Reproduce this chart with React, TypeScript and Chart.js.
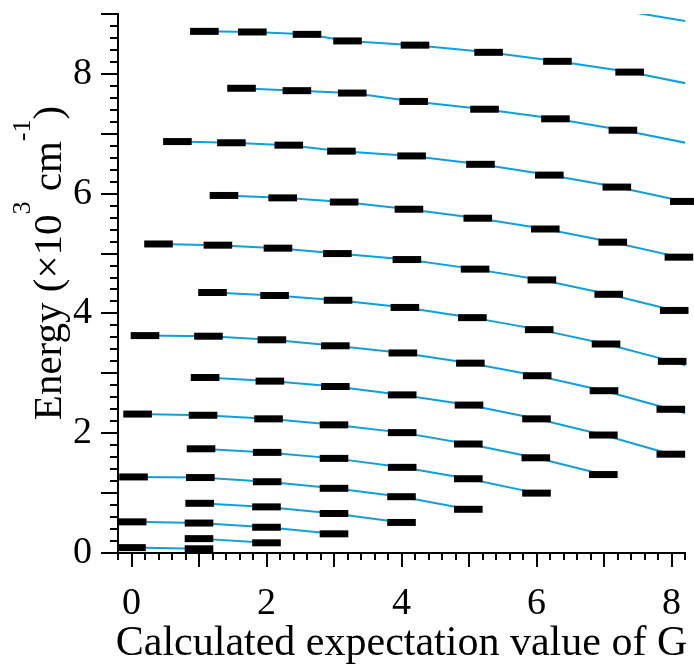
import React, { useEffect, useRef } from 'react';
import { Chart, registerables } from 'chart.js';

Chart.register(...registerables);

// ---------- data ----------
const xTickValues = [0, 2, 4, 6, 8];
const yTickValues = [0, 2, 4, 6, 8];
const xTitle = 'Calculated expectation value of G';
const yTitleMain1 = 'Energy (\u00d710';
const yTitleSup1 = '3';
const yTitleMain2 = ' cm';
const yTitleSup2 = '-1';
const yTitleMain3 = ')';

// each level series: [G, Energy (10^3 cm^-1)]
const level01: number[][] = [[0.00, 0.09], [1.00, 0.07]];
const level02: number[][] = [[1.00, 0.24], [2.00, 0.17]];
const level03: number[][] = [[0.01, 0.52], [1.00, 0.50], [2.00, 0.43], [3.00, 0.32]];
const level04: number[][] = [[1.01, 0.83], [2.00, 0.77], [3.00, 0.66], [4.00, 0.51]];
const level05: number[][] = [[0.03, 1.27], [1.02, 1.26], [2.01, 1.19], [3.00, 1.08], [4.00, 0.94], [4.99, 0.73]];
const level06: number[][] = [[1.03, 1.74], [2.01, 1.68], [3.00, 1.58], [4.01, 1.43], [4.99, 1.24], [6.00, 1.00]];
const level07: number[][] = [[0.09, 2.32], [1.06, 2.30], [2.03, 2.24], [3.00, 2.14], [4.01, 2.01], [4.99, 1.82], [5.99, 1.59], [6.99, 1.31]];
const level08: number[][] = [[1.09, 2.93], [2.05, 2.87], [3.02, 2.78], [4.01, 2.64], [5.00, 2.47], [6.00, 2.24], [6.99, 1.97], [7.99, 1.65]];
const level09: number[][] = [[0.20, 3.63], [1.14, 3.62], [2.08, 3.56], [3.02, 3.46], [4.02, 3.34], [5.02, 3.17], [6.01, 2.96], [7.00, 2.71], [7.99, 2.40], [9.00, 2.08]];
const level10: number[][] = [[1.20, 4.35], [2.12, 4.30], [3.06, 4.22], [4.05, 4.10], [5.05, 3.93], [6.04, 3.73], [7.03, 3.49], [8.01, 3.20], [9.00, 2.87]];
const level11: number[][] = [[0.40, 5.16], [1.28, 5.14], [2.17, 5.09], [3.05, 5.00], [4.08, 4.90], [5.09, 4.74], [6.08, 4.56], [7.07, 4.32], [8.04, 4.05]];
const level12: number[][] = [[1.37, 5.97], [2.24, 5.93], [3.15, 5.86], [4.11, 5.74], [5.13, 5.59], [6.13, 5.41], [7.13, 5.19], [8.11, 4.94]];
const level13: number[][] = [[0.68, 6.87], [1.48, 6.85], [2.33, 6.81], [3.11, 6.71], [4.15, 6.63], [5.17, 6.49], [6.19, 6.31], [7.19, 6.11], [8.19, 5.87]];
const level14: number[][] = [[1.63, 7.76], [2.45, 7.72], [3.27, 7.68], [4.18, 7.54], [5.23, 7.41], [6.28, 7.25], [7.28, 7.06], [8.30, 6.83]];
const level15: number[][] = [[1.08, 8.71], [1.79, 8.70], [2.60, 8.66], [3.20, 8.55], [4.20, 8.48], [5.29, 8.36], [6.31, 8.21], [7.38, 8.03], [8.45, 7.79]];
const level16: number[][] = [[6.50, 9.20], [8.55, 8.82]];

const levels = [level01, level02, level03, level04, level05, level06, level07, level08,
  level09, level10, level11, level12, level13, level14, level15, level16];

const X_MIN = -0.2;
const X_MAX = 8.2;
const Y_MIN = 0;
const Y_MAX = 9;

const LINE_COLOR = '#0ea0dc';
const SERIF = '"Liberation Serif", "Times New Roman", serif';

const axisDecor = {
  id: 'axisDecor',
  afterDraw(chart: any) {
    const { ctx, chartArea } = chart;
    const xs = chart.scales.x;
    const ys = chart.scales.y;
    ctx.save();
    ctx.strokeStyle = '#000';
    ctx.lineWidth = 2;
    ctx.beginPath();
    for (let i = 0; i <= 42; i++) {
      const v = X_MIN + i * 0.2;
      const major = Math.abs(v - Math.round(v)) < 1e-6;
      const px = Math.round(xs.getPixelForValue(v));
      ctx.moveTo(px, chartArea.bottom);
      ctx.lineTo(px, chartArea.bottom + (major ? 14 : 7));
    }
    for (let i = 0; i <= 45; i++) {
      const v = Y_MIN + i * 0.2;
      const major = Math.abs(v - Math.round(v)) < 1e-6;
      const py = Math.round(ys.getPixelForValue(v));
      ctx.moveTo(chartArea.left, py);
      ctx.lineTo(chartArea.left - (major ? 17 : 8), py);
    }
    ctx.stroke();

    // x title
    ctx.fillStyle = '#000';
    ctx.font = `42px ${SERIF}`;
    ctx.textAlign = 'center';
    ctx.textBaseline = 'alphabetic';
    ctx.fillText(xTitle, (chartArea.left + chartArea.right) / 2, 655);

    // y title (rotated, with superscripts)
    const mainFont = `41px ${SERIF}`;
    const supFont = `26px ${SERIF}`;
    const parts = [
      { t: yTitleMain1, sup: false },
      { t: yTitleSup1, sup: true },
      { t: yTitleMain2, sup: false },
      { t: yTitleSup2, sup: true },
      { t: yTitleMain3, sup: false },
    ];
    let total = 0;
    const widths: number[] = [];
    for (const p of parts) {
      ctx.font = p.sup ? supFont : mainFont;
      const w = ctx.measureText(p.t).width;
      widths.push(w);
      total += w;
    }
    ctx.translate(61, 263);
    ctx.rotate(-Math.PI / 2);
    ctx.textAlign = 'left';
    let cx = -total / 2;
    parts.forEach((p, i) => {
      ctx.font = p.sup ? supFont : mainFont;
      ctx.fillText(p.t, cx, p.sup ? -31 : 0);
      cx += widths[i];
    });
    ctx.restore();
  },
};

const zeroPad = (s: any) => {
  s.paddingTop = 0;
  s.paddingBottom = 0;
  s.paddingLeft = 0;
  s.paddingRight = 0;
};

export default function App() {
  const ref = useRef<HTMLCanvasElement | null>(null);

  useEffect(() => {
    if (!ref.current) return;
    const lineSets = levels.map((lv) => ({
      type: 'scatter' as const,
      data: lv.map((p) => ({ x: p[0], y: p[1] })),
      showLine: true,
      borderColor: LINE_COLOR,
      borderWidth: 2,
      pointRadius: 0,
      tension: 0,
      order: 2,
    }));
    const barPoints: { x: number; y: number }[] = [];
    levels.forEach((lv) => {
      lv.forEach((p) => {
        if (p[0] >= X_MIN && p[0] <= X_MAX && p[1] >= Y_MIN && p[1] <= Y_MAX) {
          barPoints.push({ x: p[0], y: p[1] });
        }
      });
    });
    const barSet = {
      type: 'scatter' as const,
      data: barPoints,
      showLine: false,
      pointStyle: 'line' as const,
      pointRadius: 14.3,
      pointBorderWidth: 7,
      pointBorderColor: '#000',
      pointBackgroundColor: '#000',
      borderColor: '#000',
      clip: false as any,
      order: 1,
    };

    const chart = new Chart(ref.current, {
      type: 'scatter',
      data: { datasets: [...lineSets, barSet] as any },
      options: {
        animation: false,
        responsive: false,
        devicePixelRatio: 1,
        events: [],
        layout: { autoPadding: false, padding: { top: 14, right: 9, left: 0, bottom: 0 } },
        plugins: { legend: { display: false }, tooltip: { enabled: false } },
        scales: {
          x: {
            type: 'linear',
            position: 'bottom',
            min: X_MIN,
            max: X_MAX,
            afterBuildTicks: (s: any) => { s.ticks = xTickValues.map((v) => ({ value: v })); },
            afterFit: (s: any) => { s.height = 112; zeroPad(s); },
            grid: { display: false, drawTicks: false },
            border: { display: true, color: '#000', width: 2 },
            ticks: {
              color: '#000',
              font: { family: SERIF, size: 38 },
              padding: 28,
              maxRotation: 0,
              autoSkip: false,
            },
          },
          y: {
            type: 'linear',
            position: 'left',
            min: Y_MIN,
            max: Y_MAX,
            afterBuildTicks: (s: any) => { s.ticks = yTickValues.map((v) => ({ value: v })); },
            afterFit: (s: any) => { s.width = 118; zeroPad(s); },
            grid: { display: false, drawTicks: false },
            border: { display: true, color: '#000', width: 2 },
            ticks: {
              color: '#000',
              font: { family: SERIF, size: 38 },
              padding: 26,
              autoSkip: false,
            },
          },
        },
      },
      plugins: [axisDecor],
    });
    return () => chart.destroy();
  }, []);

  return (
    <div style={{ position: 'absolute', left: 0, top: 0, width: 694, height: 665, background: '#fff' }}>
      <canvas ref={ref} width={694} height={665} />
    </div>
  );
}
